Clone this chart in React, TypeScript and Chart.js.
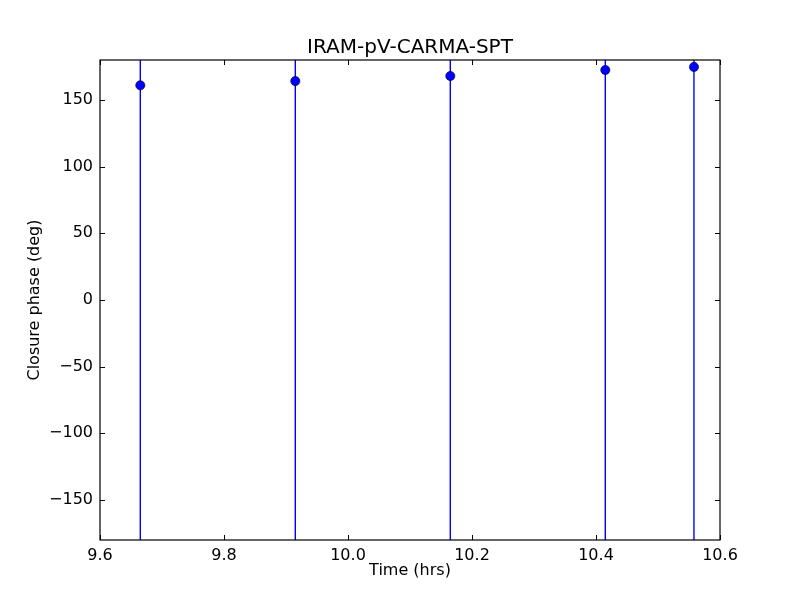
import React, { useEffect, useRef } from "react";
import { Chart, registerables } from "chart.js";

Chart.register(...registerables);

const chartTitle = "IRAM-pV-CARMA-SPT";
const xLabel = "Time (hrs)";
const yLabel = "Closure phase (deg)";
const times = [9.665, 9.915, 10.165, 10.415, 10.558];
const phases = [161, 164.2, 168, 172.5, 174.8];
const phaseErrors = [390, 410, 380, 420, 400];
const xTicks = [9.6, 9.8, 10.0, 10.2, 10.4, 10.6];
const yTicks = [-150, -100, -50, 0, 50, 100, 150];
const xRange = [9.6, 10.6];
const yRange = [-180, 180];

const FONT = "'DejaVu Sans', sans-serif";

const framePlugin = {
  id: "mplFrame",
  beforeDatasetsDraw(chart: any) {
    const { ctx, chartArea: a, scales } = chart;
    const xs = scales.x, ys = scales.y;
    ctx.save();
    ctx.beginPath();
    ctx.rect(a.left, a.top, a.right - a.left, a.bottom - a.top);
    ctx.clip();
    ctx.strokeStyle = "#0000ff";
    ctx.lineWidth = 1.4;
    times.forEach((t, i) => {
      const px = xs.getPixelForValue(t);
      const y1 = ys.getPixelForValue(phases[i] - phaseErrors[i]);
      const y2 = ys.getPixelForValue(phases[i] + phaseErrors[i]);
      ctx.beginPath();
      ctx.moveTo(px, y1);
      ctx.lineTo(px, y2);
      ctx.stroke();
    });
    ctx.restore();
  },
  afterDraw(chart: any) {
    const { ctx, chartArea: a, scales } = chart;
    const xs = scales.x, ys = scales.y;
    ctx.save();
    ctx.strokeStyle = "#000";
    ctx.lineWidth = 1;
    const L = 5;
    xTicks.forEach((t) => {
      const px = Math.round(xs.getPixelForValue(t)) + 0.5;
      ctx.beginPath();
      ctx.moveTo(px, a.bottom);
      ctx.lineTo(px, a.bottom - L);
      ctx.moveTo(px, a.top);
      ctx.lineTo(px, a.top + L);
      ctx.stroke();
    });
    yTicks.forEach((t) => {
      const py = Math.round(ys.getPixelForValue(t)) + 0.5;
      ctx.beginPath();
      ctx.moveTo(a.left, py);
      ctx.lineTo(a.left + L, py);
      ctx.moveTo(a.right, py);
      ctx.lineTo(a.right - L, py);
      ctx.stroke();
    });
    ctx.lineWidth = 1.2;
    ctx.strokeRect(a.left, a.top, a.right - a.left, a.bottom - a.top);
    ctx.fillStyle = "#000";
    ctx.font = `20px ${FONT}`;
    ctx.textAlign = "center";
    ctx.textBaseline = "alphabetic";
    ctx.fillText(chartTitle, (a.left + a.right) / 2, a.top - 7);
    ctx.restore();
  },
};

export default function App() {
  const ref = useRef<HTMLCanvasElement | null>(null);
  useEffect(() => {
    document.body.style.margin = "0";
    const c = new Chart(ref.current as HTMLCanvasElement, {
      type: "scatter",
      data: {
        datasets: [
          {
            data: times.map((t, i) => ({ x: t, y: phases[i] })),
            backgroundColor: "#0000ff",
            borderColor: "#000",
            borderWidth: 0.6,
            pointRadius: 4.6,
          },
        ],
      },
      options: {
        animation: false,
        responsive: false,
        devicePixelRatio: 1,
        layout: { padding: { top: 60, right: 80, left: 0, bottom: 0 } },
        plugins: { legend: { display: false }, tooltip: { enabled: false } },
        scales: {
          x: {
            type: "linear",
            min: xRange[0],
            max: xRange[1],
            grid: { display: false, drawTicks: false },
            border: { display: false },
            afterBuildTicks: (s: any) => {
              s.ticks = xTicks.map((v) => ({ value: v }));
            },
            afterFit: (s: any) => {
              s.height = 60;
            },
            ticks: {
              padding: 6,
              color: "#000",
              font: { family: FONT, size: 16 },
              maxRotation: 0,
              autoSkip: false,
              callback: (v: any) => Number(v).toFixed(1),
            },
            title: {
              display: true,
              text: xLabel,
              color: "#000",
              font: { family: FONT, size: 16 },
              padding: { top: 20, bottom: 20 },
            },
          },
          y: {
            type: "linear",
            min: yRange[0],
            max: yRange[1],
            grid: { display: false, drawTicks: false },
            border: { display: false },
            afterBuildTicks: (s: any) => {
              s.ticks = yTicks.map((v) => ({ value: v }));
            },
            afterFit: (s: any) => {
              s.width = 100;
            },
            ticks: {
              padding: 7,
              color: "#000",
              font: { family: FONT, size: 16 },
              autoSkip: false,
              callback: (v: any) => String(v).replace("-", "\u2212"),
            },
            title: {
              display: true,
              text: yLabel,
              color: "#000",
              font: { family: FONT, size: 16 },
              padding: { top: 25, bottom: 25 },
            },
          },
        },
      },
      plugins: [framePlugin],
    });
    return () => c.destroy();
  }, []);
  return (
    <div style={{ position: "absolute", left: 0, top: 0, width: 800, height: 600, background: "#fff" }}>
      <canvas ref={ref} width={800} height={600} style={{ width: 800, height: 600 }} />
    </div>
  );
}
